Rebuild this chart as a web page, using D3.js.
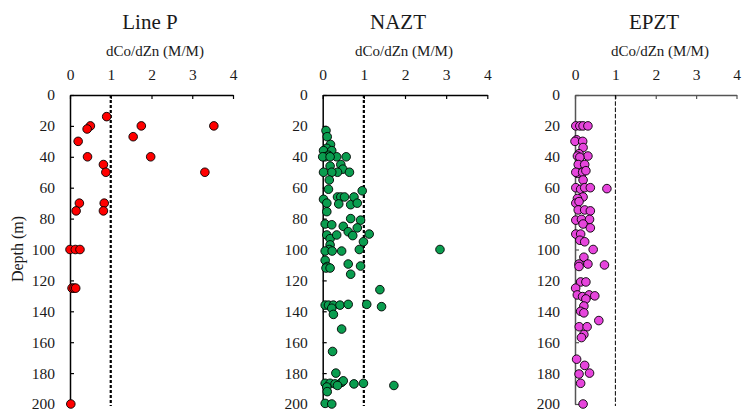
<!DOCTYPE html>
<html>
<head>
<meta charset="utf-8">
<script src="https://cdn.jsdelivr.net/npm/d3@7"></script>
<style>
  html, body { margin: 0; padding: 0; background: #fff; }
  svg text { font-family: "Times New Roman", "Liberation Serif", serif; fill: #1a1a1a; }
</style>
</head>
<body>
<svg id="chart" width="742" height="413"></svg>
<script>
// dCo/dZn ratio versus depth for three sampling regions
const panelNames = ["Line P", "NAZT", "EPZT"];
const xTicks = [0, 1, 2, 3, 4];
const depthTicks = [0, 20, 40, 60, 80, 100, 120, 140, 160, 180, 200];
const referenceRatio = 1;

const linePRatio = [0.9, 0.5, 0.42, 1.75, 3.53, 1.55, 0.2, 0.43, 1.98, 0.82, 0.88, 3.31,
  0.23, 0.15, 0.84, 0.82, 0.0, 0.13, 0.245, 0.05, 0.1, 0.14, 0.02];
const linePDepth = [14, 20, 22, 20, 20, 27, 30, 40, 40, 45, 50, 50,
  70, 75, 70, 75, 100, 100, 100, 125, 125, 125, 200];

const naztRatio = [0.08, 0.11, 0.19, 0.1, 0.02, 0.22, 0.14, 0.06, 0.0, 0.34, 0.57, 0.18,
  0.18, 0.44, 0.49, 0.36, 0.22, 0.02, 0.65, 0.16, 0.14, 0.02, 0.1, 0.36, 0.44, 0.53,
  0.39, 0.68, 0.76, 0.84, 0.96, 0.1, 0.68, 0.92, 0.06, 0.22, 0.5, 0.84, 0.1, 0.18,
  0.34, 0.62, 0.73, 1.13, 0.99, 0.18, 0.16, 0.06, 0.23, 0.46, 0.89, 2.85, 0.06, 0.62,
  0.11, 0.92, 0.08, 0.18, 0.68, 1.39, 0.06, 0.14, 0.26, 0.42, 0.62, 1.07, 1.43, 0.22,
  0.26, 0.46, 0.24, 0.32, 0.06, 0.18, 0.3, 0.46, 0.5, 0.76, 0.99, 0.1, 0.36, 1.73,
  0.11, 0.06, 0.22];
const naztDepth = [23, 27, 32, 34.5, 36, 36, 39, 40, 40, 40, 40, 40,
  46, 45, 48, 50, 50, 50, 50, 55, 61, 67.5, 70, 66, 66, 66,
  70.5, 71, 66, 70, 62, 75.5, 80, 81, 83.5, 84, 85, 86, 90.6, 93,
  90.6, 88.5, 91, 90, 95, 97, 100, 101, 101, 101, 100, 100, 107, 109.4,
  111, 110.7, 112, 112, 116, 126, 136, 136, 136, 136, 135.5, 135.5, 137, 138,
  142, 151.5, 166, 180, 186.6, 186.6, 187, 186, 185, 187, 186.6, 189, 188, 188,
  192, 199.6, 200];

const epztRatio = [0.02, 0.12, 0.2, 0.32, 0.04, 0.0, 0.19, 0.2, 0.1, 0.32, 0.06, 0.12,
  0.08, 0.24, 0.06, 0.02, 0.19, 0.27, 0.2, 0.02, 0.14, 0.24, 0.38, 0.79, 0.2, 0.06,
  0.02, 0.1, 0.08, 0.24, 0.38, 0.02, 0.16, 0.36, 0.2, 0.38, 0.02, 0.14, 0.12, 0.24,
  0.45, 0.22, 0.1, 0.32, 0.73, 0.1, 0.14, 0.27, 0.016, 0.057, 0.187, 0.35, 0.49, 0.27,
  0.22, 0.14, 0.22, 0.59, 0.105, 0.3, 0.22, 0.16, 0.04, 0.24, 0.1, 0.36, 0.14, 0.2];
const epztDepth = [20, 20, 20, 20, 29, 30, 30, 34, 38, 39.5, 39.5, 40.3,
  45, 45, 50.7, 50, 50, 49, 55, 60, 61, 60, 60, 60.6, 66, 67,
  70, 69, 74.4, 74.4, 75, 81, 80.5, 80.5, 83.5, 86, 90, 90, 94, 95,
  100, 105, 109.4, 109.4, 110, 111, 121, 121, 125, 129.4, 130.5, 129.4, 130, 132,
  136.6, 140, 141, 146, 150, 150, 155, 157, 171, 175, 180.6, 180, 186.6, 200];

const panels = [
  { name: panelNames[0], ratio: linePRatio, depth: linePDepth, x0: 70, x1: 233,
    fill: "#ff0000", axisColor: "#000", dash: "3,2", dashWidth: 2.2, titleX: 150, labelX: 155, depthTitle: true },
  { name: panelNames[1], ratio: naztRatio, depth: naztDepth, x0: 322.7, x1: 487.3,
    fill: "#0a9d4f", axisColor: "#000", dash: "3,2", dashWidth: 2.2, titleX: 398, labelX: 404, depthTitle: false },
  { name: panelNames[2], ratio: epztRatio, depth: epztDepth, x0: 575, x1: 736.5,
    fill: "#e645dc", axisColor: "#555", dash: "4.5,1.8", dashWidth: 1, titleX: 654, labelX: 660, depthTitle: false }
];

const svg = d3.select("#chart");
const yTop = 95, yBottom = 404;

panels.forEach(p => {
  const x = d3.scaleLinear().domain([0, 4]).range([p.x0, p.x1]);
  const y = d3.scaleLinear().domain([0, 200]).range([yTop, yBottom]);
  const g = svg.append("g");

  // title and ratio axis label
  g.append("text").attr("x", p.titleX).attr("y", 29).attr("text-anchor", "middle")
    .style("font-size", "21px").text(p.name);
  g.append("text").attr("x", p.labelX).attr("y", 56).attr("text-anchor", "middle")
    .style("font-size", "15px").text("dCo/dZn (M/M)");

  // top ratio axis, ticks pointing into the plot
  const xAxis = g.append("g").attr("transform", `translate(0,${yTop})`)
    .call(d3.axisTop(x).tickValues(xTicks).tickFormat(d3.format("d"))
      .tickSizeInner(-4).tickSizeOuter(0).tickPadding(15));
  // left depth axis
  const yAxis = g.append("g").attr("transform", `translate(${p.x0},0)`)
    .call(d3.axisLeft(y).tickValues(depthTicks).tickFormat(d3.format("d"))
      .tickSizeInner(-4).tickSizeOuter(0).tickPadding(15));

  [xAxis, yAxis].forEach(a => {
    a.select(".domain").attr("stroke", p.axisColor).attr("stroke-width", 1.5);
    a.selectAll(".tick line").attr("stroke", p.axisColor).attr("stroke-width", 1.2);
    a.selectAll(".tick text")
      .style("font-family", '"Times New Roman", "Liberation Serif", serif')
      .style("font-size", "15.5px").attr("fill", "#1a1a1a");
  });

  // ratio = 1 reference line
  g.append("line")
    .attr("x1", x(referenceRatio)).attr("x2", x(referenceRatio))
    .attr("y1", y(0)).attr("y2", y(200) + 2)
    .attr("stroke", "#000").attr("stroke-width", p.dashWidth)
    .attr("stroke-dasharray", p.dash);

  // observations
  g.append("g").selectAll("circle")
    .data(p.ratio.map((r, i) => ({ r, d: p.depth[i] })))
    .join("circle")
    .attr("cx", d => x(d.r)).attr("cy", d => y(d.d)).attr("r", 4.3)
    .attr("fill", p.fill).attr("stroke", "#000").attr("stroke-width", 0.9);

  if (p.depthTitle) {
    g.append("text").attr("transform", "translate(23,249) rotate(-90)")
      .attr("text-anchor", "middle").style("font-size", "16px").text("Depth (m)");
  }
});
</script>
</body>
</html>
